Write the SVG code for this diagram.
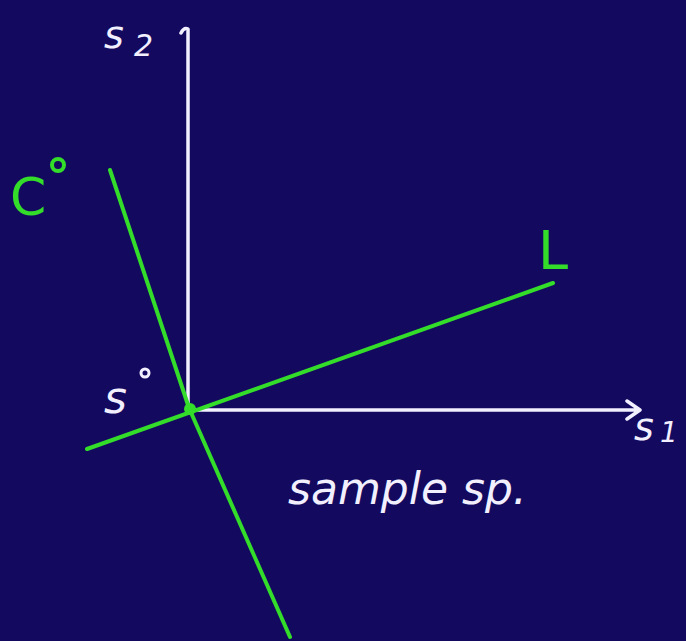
<svg xmlns="http://www.w3.org/2000/svg" width="686" height="641" viewBox="0 0 686 641">
<style>
.ax{stroke:#f2f0ff;stroke-width:3.5;fill:none;stroke-linecap:round;stroke-linejoin:round}
.gr{stroke:#33dd2a;stroke-width:4;fill:none;stroke-linecap:round;stroke-linejoin:round}
.wt{fill:#f2f0ff;font-family:"DejaVu Sans",sans-serif;font-style:italic}
.gt{fill:#33dd2a;font-family:"DejaVu Sans",sans-serif}
</style>
<rect width="686" height="641" fill="#130a60"/>
<g id="connectors">
<path class="ax" d="M181,33 Q184,27 188,29 L188,410"/>
<path class="ax" d="M188,410 L640,410 M627,401 L640,410 L627,419"/>
<path class="gr" d="M87,449 L553,283"/>
<path class="gr" d="M110,170 L189,408 L290,637"/>
</g>
<g id="origin"><circle cx="190" cy="409" r="6" fill="#33dd2a"/></g>
<g id="s2"><text class="wt" x="104" y="48" font-size="38">s</text><text class="wt" x="134" y="56" font-size="30">2</text></g>
<g id="C0"><text class="gt" x="10" y="215" font-size="52">C</text><circle cx="58" cy="165" r="6" fill="none" stroke="#33dd2a" stroke-width="4"/></g>
<g id="L"><text class="gt" x="538" y="269" font-size="54">L</text></g>
<g id="s0"><text class="wt" x="104" y="413" font-size="44">s</text><circle cx="145" cy="373" r="4" fill="none" stroke="#f2f0ff" stroke-width="3"/></g>
<g id="s1"><text class="wt" x="634" y="440" font-size="38">s</text><text class="wt" x="660" y="442" font-size="28">1</text></g>
<g id="sample"><text class="wt" x="288" y="504" font-size="44">sample sp.</text></g>
</svg>
